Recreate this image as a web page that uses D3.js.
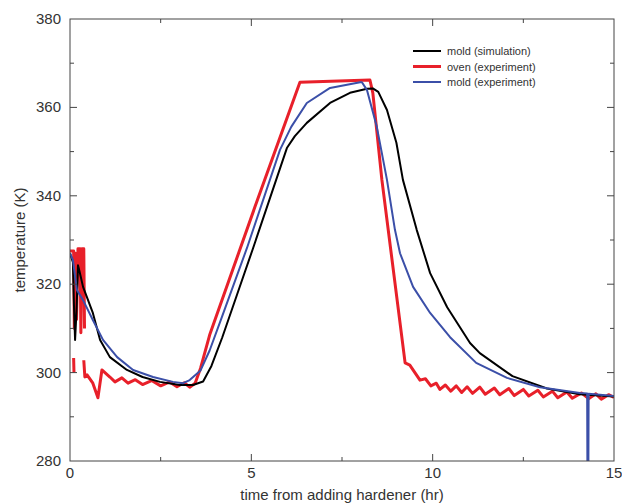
<!DOCTYPE html>
<html>
<head>
<meta charset="utf-8">
<script src="https://cdn.jsdelivr.net/npm/d3@7"></script>
<style>
  body { margin: 0; background: #fff; }
  text { font-family: "Liberation Sans", Arial, sans-serif; }
</style>
</head>
<body>
<div id="chart"></div>
<script>
// mold (simulation) [hr, K]
const moldSim = [
  [0, 327], [0.08, 325], [0.11, 315], [0.14, 307.4], [0.18, 314], [0.22, 324.3], [0.26, 323],
  [0.36, 319.4], [0.63, 313.5], [0.83, 307.4], [1.1, 303.5], [1.57, 300.6], [2.0, 299],
  [2.48, 297.9], [3.03, 297.2], [3.39, 297.2], [3.67, 298], [3.9, 301.5], [4.2, 308],
  [4.6, 317.5], [5.05, 328.2], [5.98, 350.8], [6.2, 353.5], [6.53, 356.5], [7.17, 361],
  [7.72, 363.3], [8.19, 364.2], [8.35, 364.3], [8.5, 363.5], [8.74, 359.4], [9.0, 352],
  [9.18, 343.6], [9.56, 332.3], [9.93, 322.5], [10.4, 314.8], [11.03, 306.7], [11.3, 304.4],
  [12.2, 299.2], [13.15, 296.4], [14.06, 295.1], [15, 294.6]
];

// oven (experiment), null = gap in the record
const ovenExp = [
  [0, 327.5], [0.1, 327.5], [0.12, 310], [0.15, 327], [0.18, 312], [0.22, 328], [0.28, 328],
  [0.3, 309], [0.33, 328], [0.38, 328], [0.4, 310], null,
  [0.1, 303.3], [0.11, 300], null,
  [0.38, 302.8], [0.41, 299], [0.47, 299.5], [0.63, 297.6], [0.77, 294.3], [0.88, 300.6],
  [1.1, 299], [1.24, 297.9], [1.43, 298.8], [1.6, 297.6], [1.8, 298.4], [2.0, 297.3],
  [2.25, 298.2], [2.5, 297], [2.75, 297.9], [2.95, 296.8], [3.15, 297.7], [3.3, 296.7],
  [3.45, 297.6], [3.6, 301], [3.85, 308.5], [5.1, 337.5], [6.34, 365.7], [8.27, 366.2],
  [8.35, 363.3], [8.6, 343.6], [9.24, 302.2], [9.37, 301.7],
  [9.65, 298.3], [9.8, 298.6], [9.95, 297], [10.1, 297.6], [10.2, 296.2], [10.35, 297.2],
  [10.5, 295.8], [10.65, 297.0], [10.8, 295.5], [10.95, 296.8], [11.1, 295.3], [11.3, 296.7],
  [11.45, 295.1], [11.7, 296.5], [11.85, 295.0], [12.1, 296.4], [12.25, 294.8], [12.5, 296.2],
  [12.65, 294.7], [12.9, 296.0], [13.05, 294.5], [13.3, 295.8], [13.45, 294.3], [13.7, 295.6],
  [13.85, 294.2], [14.1, 295.4], [14.3, 294.1], [14.5, 295.2], [14.65, 294.0], [14.85, 295.0],
  [15, 294.4]
];

// mold (experiment)
const moldExp = [
  [0, 327], [0.08, 325.5], [0.19, 318.7], [0.36, 316.4], [0.63, 311.9], [0.91, 307.4],
  [1.3, 303.5], [1.74, 300.6], [2.29, 299], [2.84, 297.9], [3.12, 297.6], [3.3, 298.3],
  [3.6, 300.5], [3.85, 305], [4.19, 312.6], [4.88, 328.2], [5.79, 350.4], [6.1, 355.6],
  [6.53, 361], [7.17, 364.4], [8.0, 365.7], [8.05, 365.7], [8.19, 363.9], [8.46, 355.6],
  [8.74, 343.6], [8.96, 332.3], [9.1, 327], [9.46, 319.4], [9.93, 313.5], [10.48, 308],
  [11.2, 302.2], [12.05, 298.8], [12.96, 296.7], [14.06, 295.4], [14.26, 295.3],
  [14.27, 270], [14.29, 270], [14.3, 295.2], [15, 294.7]
];

const series = [
  {name: 'oven (experiment)', data: ovenExp, color: '#e8202a', width: 3},
  {name: 'mold (simulation)', data: moldSim, color: '#000000', width: 2},
  {name: 'mold (experiment)', data: moldExp, color: '#3b4fa8', width: 2}
];
const legendOrder = ['mold (simulation)', 'oven (experiment)', 'mold (experiment)'];

const xMajor = [0, 5, 10, 15];
const xMinor = [2.5, 7.5, 12.5];
const yMajor = [280, 300, 320, 340, 360, 380];
const yMinor = [290, 310, 330, 350, 370];

const margin = {top: 19, right: 8, bottom: 43, left: 70};
const W = 622, H = 504;
const width = W - margin.left - margin.right;
const height = H - margin.top - margin.bottom;

const x = d3.scaleLinear().domain([0, 15]).range([0, width]);
const y = d3.scaleLinear().domain([280, 380]).range([height, 0]);

const svg = d3.select('#chart').append('svg')
    .attr('width', W).attr('height', H);
const g = svg.append('g')
    .attr('transform', 'translate(' + margin.left + ',' + margin.top + ')');

g.append('clipPath').attr('id', 'clip')
  .append('rect').attr('width', width).attr('height', height);

const line = d3.line()
    .defined(d => d !== null)
    .x(d => x(d[0]))
    .y(d => y(d[1]));

// series
series.forEach(s => {
  g.append('path')
    .datum(s.data)
    .attr('clip-path', 'url(#clip)')
    .attr('fill', 'none')
    .attr('stroke', s.color)
    .attr('stroke-width', s.width)
    .attr('stroke-linejoin', 'round')
    .attr('d', line);
});

// frame
g.append('rect')
  .attr('width', width).attr('height', height)
  .attr('fill', 'none').attr('stroke', '#444').attr('stroke-width', 1);

// inward ticks on all four sides
const tickColor = '#444';
function ticks(vals, len) {
  vals.forEach(v => {
    g.append('line').attr('x1', x(v)).attr('x2', x(v)).attr('y1', height).attr('y2', height - len).attr('stroke', tickColor);
    g.append('line').attr('x1', x(v)).attr('x2', x(v)).attr('y1', 0).attr('y2', len).attr('stroke', tickColor);
  });
}
function yticks(vals, len) {
  vals.forEach(v => {
    g.append('line').attr('x1', 0).attr('x2', len).attr('y1', y(v)).attr('y2', y(v)).attr('stroke', tickColor);
    g.append('line').attr('x1', width).attr('x2', width - len).attr('y1', y(v)).attr('y2', y(v)).attr('stroke', tickColor);
  });
}
ticks(xMajor.slice(1, -1), 7);
ticks(xMinor, 4);
yticks(yMajor.slice(1, -1), 7);
yticks(yMinor, 4);

// tick labels
g.selectAll('.xl').data(xMajor).enter().append('text')
  .attr('x', d => x(d)).attr('y', height + 17)
  .attr('text-anchor', 'middle').attr('font-size', 15).attr('fill', '#333')
  .text(d => d);
g.selectAll('.yl').data(yMajor).enter().append('text')
  .attr('x', -9).attr('y', d => y(d) + 5)
  .attr('text-anchor', 'end').attr('font-size', 15).attr('fill', '#333')
  .text(d => d);

// axis titles
svg.append('text')
  .attr('x', margin.left + width / 2).attr('y', H - 4)
  .attr('text-anchor', 'middle').attr('font-size', 15).attr('fill', '#333')
  .text('time from adding hardener (hr)');
svg.append('text')
  .attr('transform', 'translate(25,' + (margin.top + height / 2) + ') rotate(-90)')
  .attr('text-anchor', 'middle').attr('font-size', 15).attr('fill', '#333')
  .text('temperature (K)');

// legend
const legend = svg.append('g').attr('transform', 'translate(413,51)');
legendOrder.forEach((name, i) => {
  const s = series.find(t => t.name === name);
  legend.append('line')
    .attr('x1', 0).attr('x2', 28).attr('y1', i * 15.5).attr('y2', i * 15.5)
    .attr('stroke', s.color).attr('stroke-width', s.width);
  legend.append('text')
    .attr('x', 34).attr('y', i * 15.5 + 4)
    .attr('font-size', 11).attr('fill', '#333')
    .text(name);
});
</script>
</body>
</html>
